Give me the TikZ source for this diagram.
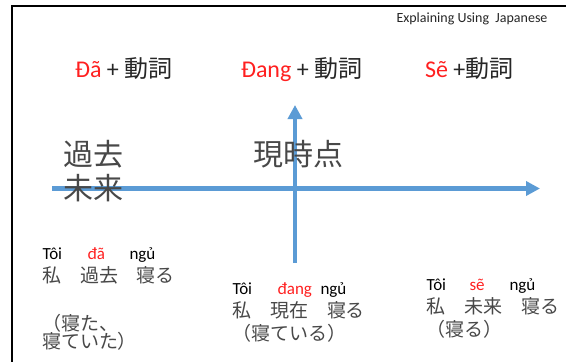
\documentclass[tikz,border=0pt]{standalone}
\usepackage{fontspec}
\setmainfont{Carlito}
\newfontfamily\jp{Noto Sans CJK JP}
\usetikzlibrary{arrows.meta}
\definecolor{axisblue}{HTML}{5B9BD5}
\definecolor{vred}{HTML}{FF2020}
\definecolor{jgray}{HTML}{484848}
\definecolor{hgray}{HTML}{262626}
\newcommand{\fs}[1]{\fontsize{#1}{#1}\selectfont}
\begin{document}
\begin{tikzpicture}[x=1pt,y=-1pt,
  every node/.style={inner sep=0pt,outer sep=0pt},
  head/.style={anchor=base west,font=\fs{24},text=hgray},
  big/.style={anchor=west,font=\jp\fs{30},text=jgray},
  viet/.style={anchor=base west,font=\fs{17}},
  vietred/.style={viet,text=vred},
  jsmall/.style={anchor=west,font=\jp\fs{19},text=jgray},
  axis/.style={draw=axisblue,line width=4.5pt,-{Triangle[length=14pt,width=14pt]}},
  frame/.style={draw=black,line width=2pt}]
\useasboundingbox (0,0) rectangle (566,362);
\fill[white] (0,0) rectangle (566,362);
% frame
\coordinate (fb) at (11.7,362);
\coordinate (fc) at (11.7,5.8);
\coordinate (fr) at (566,5.8);
\draw[frame] (fb) -- (fc) -- (fr);
% axes
\coordinate (hs) at (52,188.5);
\coordinate (he) at (540,188.5);
\coordinate (vs) at (295,263);
\coordinate (ve) at (295,105);
\draw[axis] (hs) -- (he);
\draw[axis] (vs) -- (ve);
% title
\node[anchor=base west,font=\fs{14},text=hgray] (title) at (396.5,22) {Explaining Using\ \ Japanese};
% headings
\node[head] (h1) at (75,77) {\textcolor{vred}{Đã} + {\jp 動詞}};
\node[head] (h2) at (241,77) {\textcolor{vred}{Đang} + {\jp 動詞}};
\node[head] (h3) at (425,77) {\textcolor{vred}{Sẽ} +{\jp 動詞}};
% big labels
\node[big] (past) at (63.5,154.5) {過去};
\node[big] (fut) at (63.5,188.5) {未来};
\node[big] (now) at (253.5,154) {現時点};
% left block
\node[viet] (l1) at (42.5,259.3) {Tôi};
\node[vietred] (l2) at (87.5,259.3) {đã};
\node[viet] (l3) at (129.5,259.3) {ngủ};
\node[jsmall] (l4) at (42,275) {私　過去　寝る};
\node[jsmall] (l5) at (42,323.5) {（寝た、};
\node[jsmall] (l6) at (42,341.5) {寝ていた）};
% middle block
\node[viet] (m1) at (232.5,294) {Tôi};
\node[vietred] (m2) at (277.5,294) {đang};
\node[viet] (m3) at (320.5,294) {ngủ};
\node[jsmall] (m4) at (232,310) {私　現在　寝る};
\node[jsmall] (m5) at (232,333) {（寝ている）};
% right block
\node[viet] (r1) at (426.5,290) {Tôi};
\node[vietred] (r2) at (469.5,290) {sẽ};
\node[viet] (r3) at (509.5,290) {ngủ};
\node[jsmall] (r4) at (426,306) {私　未来　寝る};
\node[jsmall] (r5) at (426,329) {（寝る）};
\end{tikzpicture}
\end{document}
